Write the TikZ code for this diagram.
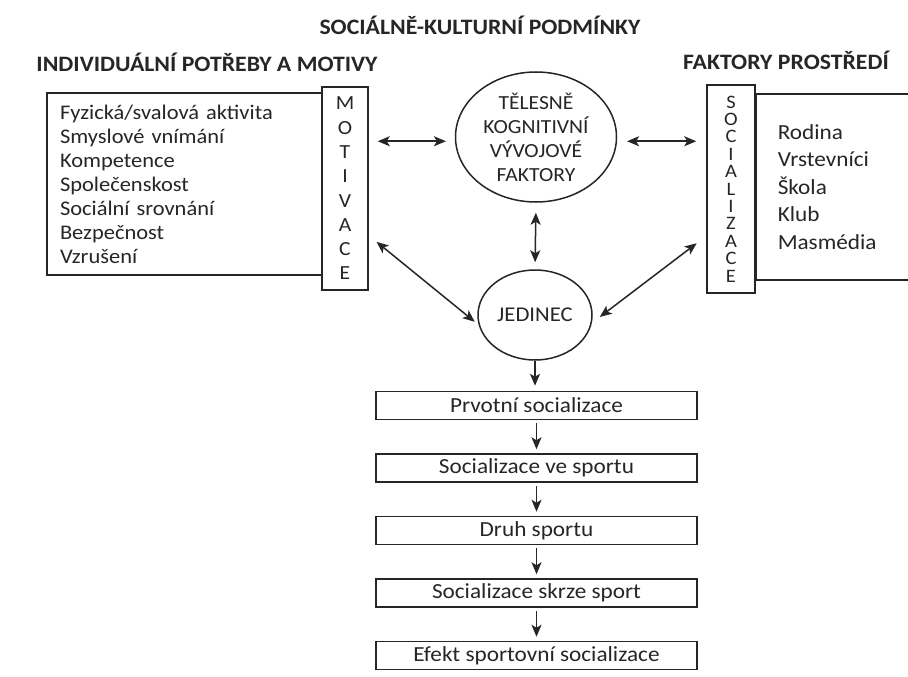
\documentclass[tikz,border=0pt]{standalone}
\usepackage{fontspec}
\setmainfont{Carlito}[FakeStretch = 1.08]
\usetikzlibrary{arrows.meta}
\usetikzlibrary{positioning}
\usetikzlibrary{shapes.geometric}

\begin{document}
\begin{tikzpicture}
[
	x = 1pt, y = -1pt,
	> = {Stealth[length = 12pt, width = 10pt, inset = 3pt]},
	head/.style	= {font = \fontsize{22}{24}\selectfont\bfseries, text = black!85, inner sep = 0pt},
	frame/.style	= {draw = black!85, line width = 1.5pt, inner sep = 0pt},
	listbox/.style	= {frame, align = left, text = black!85, font = \fontsize{20.8}{24}\selectfont},
	column/.style	= {frame, align = center, text = black!85},
	oval/.style	= {ellipse, frame, align = center, text = black!85, font = \fontsize{20}{24}\selectfont},
	stage/.style	= {frame, minimum width = 321pt, minimum height = 28pt, text = black!85, font = \fontsize{21.5}{24}\selectfont},
	link/.style	= {<->, line width = 1.5pt, draw = black!85},
	flow/.style	= {->, line width = 1.5pt, draw = black!85},
	node distance = 33pt,
]

	\clip (0,0) rectangle (908,677);
	\fill [white] (0,0) rectangle (908,677);

	% headings
	\node (title) [head] at (480,25) {SOCIÁLNĚ-KULTURNÍ PODMÍNKY};
	\node (needsHead) [head] at (207,62) {INDIVIDUÁLNÍ POTŘEBY A MOTIVY};
	\node (envHead) [head] at (786,60) {FAKTORY PROSTŘEDÍ};

	% left block
	\node (needs) [listbox, minimum height = 182pt, text width = 249pt, inner xsep = 13pt] at (184.5,184)
		{Fyzická/svalová aktivita\\Smyslové vnímání\\Kompetence\\Společenskost\\Sociální srovnání\\Bezpečnost\\Vzrušení};
	\node (motiv) [column, minimum width = 46pt, minimum height = 203pt, font = \fontsize{20}{24.3}\selectfont] at (345,188.5)
		{M\\O\\T\\I\\V\\A\\C\\E};

	% right block
	\node (soc) [column, minimum width = 48pt, minimum height = 208pt, font = \fontsize{19}{17.4}\selectfont] at (731,189)
		{S\\O\\C\\I\\A\\L\\I\\Z\\A\\C\\E};
	\node (env) [listbox, anchor = west, minimum height = 186pt, text width = 160pt, inner xsep = 22pt, font = \fontsize{21.5}{27.5}\selectfont] at (755,187)
		{Rodina\\Vrstevníci\\Škola\\Klub\\Masmédia};

	% centre
	\node (tel) [oval, minimum width = 161pt, minimum height = 130pt] at (536,137)
		{TĚLESNĚ\\KOGNITIVNÍ\\VÝVOJOVÉ\\FAKTORY};
	\node (jed) [oval, minimum width = 114pt, minimum height = 90pt, font = \fontsize{21}{24}\selectfont] at (535,315) {JEDINEC};

	% stages
	\node (stage1) [stage] at (536.5,405.5) {Prvotní socializace};
	\node (stage2) [stage, below = of stage1] {Socializace ve sportu};
	\node (stage3) [stage, below = of stage2] {Druh sportu};
	\node (stage4) [stage, below = of stage3] {Socializace skrze sport};
	\node (stage5) [stage, below = of stage4] {Efekt sportovní socializace};

	\draw [link, shorten < = 9pt, shorten > = 9pt] (motiv.east |- tel.183) -- (tel.183);
	\draw [link, shorten < = 10pt, shorten > = 10pt] (tel.357) -- (soc.west |- tel.357);
	\draw [link, shorten < = 10pt, shorten > = 7pt] (tel.south) -- (jed.north);
	\draw [link, shorten < = 10pt, shorten > = 5pt] ([yshift = -47pt]motiv.east) -- (jed.190);
	\draw [link, shorten < = 12pt, shorten > = 10pt] ([yshift = -47pt]soc.west) -- (jed.352);

	\draw [flow, shorten > = 5pt] (jed.south) -- (stage1.north -| jed.south);
	\draw [flow, shorten < = 3pt, shorten > = 4pt] (stage1) -- (stage2);
	\draw [flow, shorten < = 3pt, shorten > = 4pt] (stage2) -- (stage3);
	\draw [flow, shorten < = 3pt, shorten > = 4pt] (stage3) -- (stage4);
	\draw [flow, shorten < = 3pt, shorten > = 4pt] (stage4) -- (stage5);

\end{tikzpicture}
\end{document}
